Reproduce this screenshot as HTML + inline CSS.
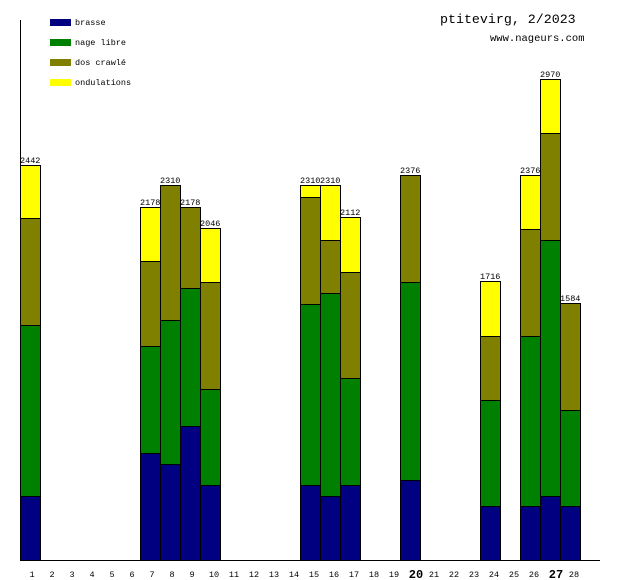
<!DOCTYPE html>
<html><head><meta charset="utf-8"><style>
html,body{margin:0;padding:0;background:#fff;}
svg{display:block;}
text{font-family:"Liberation Mono","DejaVu Sans Mono",monospace;fill:#000;}
</style></head><body>
<svg width="620" height="580" viewBox="0 0 620 580" xmlns="http://www.w3.org/2000/svg">
<g stroke="#000" stroke-width="1">
<rect x="20.5" y="165.5" width="20" height="53" fill="#ffff00"/>
<rect x="20.5" y="218.5" width="20" height="107" fill="#808000"/>
<rect x="20.5" y="325.5" width="20" height="171" fill="#008000"/>
<rect x="20.5" y="496.5" width="20" height="64" fill="#000080"/>
<rect x="140.5" y="207.5" width="20" height="54" fill="#ffff00"/>
<rect x="140.5" y="261.5" width="20" height="85" fill="#808000"/>
<rect x="140.5" y="346.5" width="20" height="107" fill="#008000"/>
<rect x="140.5" y="453.5" width="20" height="107" fill="#000080"/>
<rect x="160.5" y="185.5" width="20" height="135" fill="#808000"/>
<rect x="160.5" y="320.5" width="20" height="144" fill="#008000"/>
<rect x="160.5" y="464.5" width="20" height="96" fill="#000080"/>
<rect x="180.5" y="207.5" width="20" height="81" fill="#808000"/>
<rect x="180.5" y="288.5" width="20" height="138" fill="#008000"/>
<rect x="180.5" y="426.5" width="20" height="134" fill="#000080"/>
<rect x="200.5" y="228.5" width="20" height="54" fill="#ffff00"/>
<rect x="200.5" y="282.5" width="20" height="107" fill="#808000"/>
<rect x="200.5" y="389.5" width="20" height="96" fill="#008000"/>
<rect x="200.5" y="485.5" width="20" height="75" fill="#000080"/>
<rect x="300.5" y="185.5" width="20" height="12" fill="#ffff00"/>
<rect x="300.5" y="197.5" width="20" height="107" fill="#808000"/>
<rect x="300.5" y="304.5" width="20" height="181" fill="#008000"/>
<rect x="300.5" y="485.5" width="20" height="75" fill="#000080"/>
<rect x="320.5" y="185.5" width="20" height="55" fill="#ffff00"/>
<rect x="320.5" y="240.5" width="20" height="53" fill="#808000"/>
<rect x="320.5" y="293.5" width="20" height="203" fill="#008000"/>
<rect x="320.5" y="496.5" width="20" height="64" fill="#000080"/>
<rect x="340.5" y="217.5" width="20" height="55" fill="#ffff00"/>
<rect x="340.5" y="272.5" width="20" height="106" fill="#808000"/>
<rect x="340.5" y="378.5" width="20" height="107" fill="#008000"/>
<rect x="340.5" y="485.5" width="20" height="75" fill="#000080"/>
<rect x="400.5" y="175.5" width="20" height="107" fill="#808000"/>
<rect x="400.5" y="282.5" width="20" height="198" fill="#008000"/>
<rect x="400.5" y="480.5" width="20" height="80" fill="#000080"/>
<rect x="480.5" y="281.5" width="20" height="55" fill="#ffff00"/>
<rect x="480.5" y="336.5" width="20" height="64" fill="#808000"/>
<rect x="480.5" y="400.5" width="20" height="106" fill="#008000"/>
<rect x="480.5" y="506.5" width="20" height="54" fill="#000080"/>
<rect x="520.5" y="175.5" width="20" height="54" fill="#ffff00"/>
<rect x="520.5" y="229.5" width="20" height="107" fill="#808000"/>
<rect x="520.5" y="336.5" width="20" height="170" fill="#008000"/>
<rect x="520.5" y="506.5" width="20" height="54" fill="#000080"/>
<rect x="540.5" y="79.5" width="20" height="54" fill="#ffff00"/>
<rect x="540.5" y="133.5" width="20" height="107" fill="#808000"/>
<rect x="540.5" y="240.5" width="20" height="256" fill="#008000"/>
<rect x="540.5" y="496.5" width="20" height="64" fill="#000080"/>
<rect x="560.5" y="303.5" width="20" height="107" fill="#808000"/>
<rect x="560.5" y="410.5" width="20" height="96" fill="#008000"/>
<rect x="560.5" y="506.5" width="20" height="54" fill="#000080"/>
</g>
<line x1="20.5" y1="20" x2="20.5" y2="560" stroke="#000"/>
<line x1="20" y1="560.5" x2="600" y2="560.5" stroke="#000"/>
<rect x="50" y="19" width="21" height="7" fill="#000080"/>
<rect x="50" y="39" width="21" height="7" fill="#008000"/>
<rect x="50" y="59" width="21" height="7" fill="#808000"/>
<rect x="50" y="79" width="21" height="7" fill="#ffff00"/>
<g font-size="8.5">
<text x="75" y="25">brasse</text>
<text x="75" y="45">nage libre</text>
<text x="75" y="65">dos crawlé</text>
<text x="75" y="85">ondulations</text>
</g>
<text x="440" y="23" font-size="13.3">ptitevirg, 2/2023</text>
<text x="490" y="41" font-size="10.5">www.nageurs.com</text>
<g font-size="8.5">
<text x="20" y="163">2442</text>
<text x="140" y="205">2178</text>
<text x="160" y="183">2310</text>
<text x="180" y="205">2178</text>
<text x="200" y="226">2046</text>
<text x="300" y="183">2310</text>
<text x="320" y="183">2310</text>
<text x="340" y="215">2112</text>
<text x="400" y="173">2376</text>
<text x="480" y="279">1716</text>
<text x="520" y="173">2376</text>
<text x="540" y="77">2970</text>
<text x="560" y="301">1584</text>
</g>
<g font-size="8.5" text-anchor="middle">
<text x="32" y="577">1</text><text x="52" y="577">2</text><text x="72" y="577">3</text>
<text x="92" y="577">4</text><text x="112" y="577">5</text><text x="132" y="577">6</text>
<text x="152" y="577">7</text><text x="172" y="577">8</text><text x="192" y="577">9</text>
<text x="214" y="577">10</text><text x="234" y="577">11</text><text x="254" y="577">12</text>
<text x="274" y="577">13</text><text x="294" y="577">14</text><text x="314" y="577">15</text>
<text x="334" y="577">16</text><text x="354" y="577">17</text><text x="374" y="577">18</text>
<text x="394" y="577">19</text>
<text x="416" y="578" font-size="12" font-weight="bold">20</text>
<text x="434" y="577">21</text><text x="454" y="577">22</text><text x="474" y="577">23</text>
<text x="494" y="577">24</text><text x="514" y="577">25</text><text x="534" y="577">26</text>
<text x="556" y="578" font-size="12" font-weight="bold">27</text>
<text x="574" y="577">28</text>
</g>
</svg>
</body></html>
